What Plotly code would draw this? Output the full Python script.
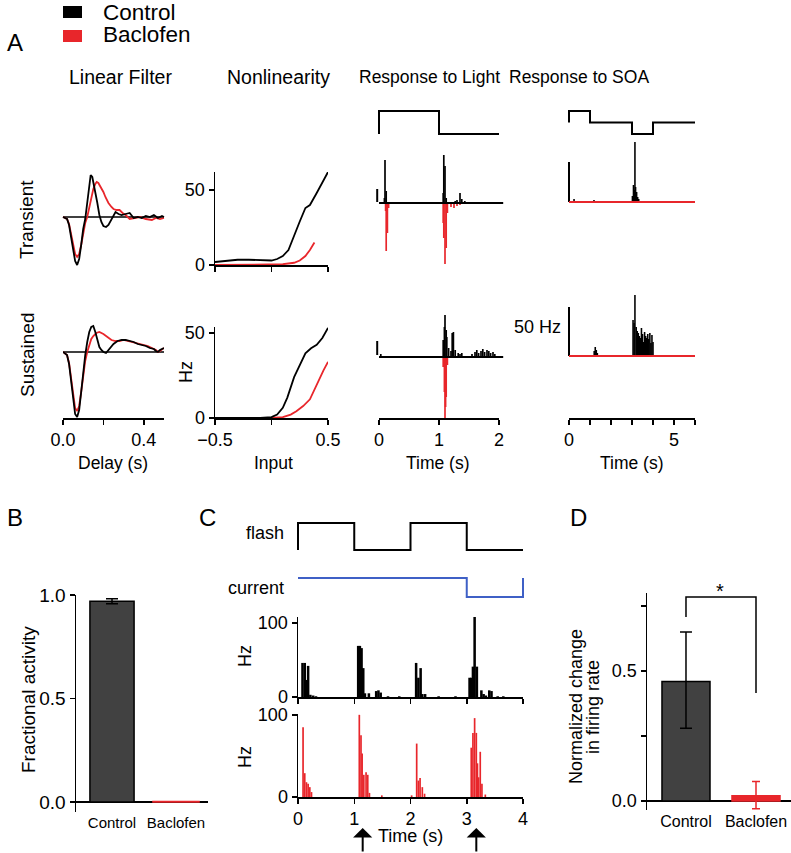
import plotly.graph_objects as go

W, H = 791, 853
FONT = "Liberation Sans, Arial, Helvetica, sans-serif"
BLACK = "#000000"
RED = "#e8262b"
BLUE = "#3f60c6"
GRAY = "#414141"

# ======================= DATA =======================
# --- A: linear filters (arbitrary units) ---
lf_tr_ctrl_delay = [0, 0.02, 0.03, 0.04, 0.05, 0.06, 0.07, 0.08, 0.09, 0.10, 0.11, 0.12, 0.13, 0.137, 0.145,
                    0.16, 0.17, 0.18, 0.19, 0.20, 0.213, 0.225, 0.24, 0.25, 0.26, 0.275, 0.29, 0.31, 0.33,
                    0.35, 0.37, 0.39, 0.41, 0.43, 0.45, 0.47, 0.49, 0.50]
lf_tr_ctrl = [0, -2, -8, -20, -34, -44, -48, -42, -28, -12, -2, 14, 34, 42, 40,
              26, 14, 2, -5, -9, -10, -8, -3, 1, 5, 3, 2, 3, 4,
              -1, 0, -1, 1, 0, 2, -1, 1, 0]
lf_tr_bac_delay = [0, 0.02, 0.03, 0.04, 0.05, 0.06, 0.07, 0.08, 0.09, 0.10, 0.11, 0.12, 0.13, 0.14, 0.15,
                   0.16, 0.167, 0.175, 0.19, 0.20, 0.21, 0.225, 0.24, 0.25, 0.265, 0.28, 0.295, 0.31, 0.33,
                   0.35, 0.38, 0.41, 0.44, 0.46, 0.48, 0.50]
lf_tr_bac = [0, -2, -7, -17, -29, -37, -40, -37, -28, -17, -6, 0, 10, 20, 28,
             33, 35, 34, 29, 25, 20, 14, 10, 8, 7, 7, 4, 2, -2,
             -1, 0, -2, -3, -1, -2, -1]
lf_su_ctrl_delay = [0, 0.02, 0.03, 0.04, 0.05, 0.06, 0.07, 0.08, 0.09, 0.10, 0.11, 0.12, 0.13, 0.14, 0.15,
                    0.16, 0.17, 0.18, 0.19, 0.20, 0.213, 0.23, 0.25, 0.27, 0.29, 0.31, 0.33, 0.35, 0.37,
                    0.39, 0.41, 0.43, 0.45, 0.46, 0.47, 0.48, 0.50]
lf_su_ctrl = [0, -3, -12, -30, -50, -62, -65, -58, -40, -20, -3, 10, 20, 25, 26,
              20, 12, 5, 2, 0, -1, 3, 8, 11, 12, 12, 11, 10, 8,
              7, 6, 4, 3, 1, 0, 2, 4]
lf_su_bac_delay = [0, 0.02, 0.03, 0.04, 0.05, 0.06, 0.07, 0.08, 0.09, 0.10, 0.11, 0.12, 0.13, 0.14, 0.15,
                   0.165, 0.18, 0.20, 0.22, 0.24, 0.26, 0.28, 0.30, 0.32, 0.34, 0.36, 0.38, 0.40, 0.42,
                   0.44, 0.46, 0.47, 0.48, 0.50]
lf_su_bac = [0, -3, -11, -27, -45, -56, -59, -54, -40, -24, -9, 0, 8, 13, 16,
             19, 20, 18, 15, 12, 11, 11, 12, 11, 10, 9, 8, 7, 6,
             4, 2, 0, 1, 4]

# --- A: nonlinearities (input vs Hz) ---
nl_tr_ctrl_in = [-0.5, -0.4, -0.3, -0.2, -0.1, 0.0, 0.05, 0.1, 0.15, 0.2, 0.25, 0.3, 0.34, 0.4, 0.45, 0.5]
nl_tr_ctrl = [2, 3, 3.5, 3.5, 3.5, 3, 4, 6, 10, 20, 29, 38, 40, 48, 55, 62]
nl_tr_bac_in = [-0.5, -0.3, 0.0, 0.1, 0.2, 0.25, 0.3, 0.34, 0.38]
nl_tr_bac = [0, 0, 0, 0.5, 1.5, 3, 6, 10, 15]
nl_su_ctrl_in = [-0.5, -0.1, 0.0, 0.05, 0.1, 0.14, 0.2, 0.26, 0.3, 0.35, 0.4, 0.45, 0.5]
nl_su_ctrl = [0, 0, 0.5, 2, 6, 12, 24, 33, 38, 41, 43, 47, 53]
nl_su_bac_in = [-0.5, 0.0, 0.1, 0.17, 0.22, 0.28, 0.34, 0.38, 0.42, 0.46, 0.5]
nl_su_bac = [0, 0, 0.5, 2, 4, 7, 11, 17, 23, 28, 33]

# --- A: response to light (Hz) ---
light_stim_t = [0, 0, 1, 2]
light_stim_level = [0, 1, 0, 0]
light_base_t = [0, 2.07]
light_tr_ctrl_t = [0.09, 0.10, 0.12, 1.07, 1.08, 1.10, 1.12, 1.27, 1.30, 1.35, 1.38, 1.43]
light_tr_ctrl = [5, 43, 12, 10, 48, 37, 5, 2, 3, 10, 4, 2]
light_tr_bac_t = [0.11, 0.12, 0.14, 0.16, 1.07, 1.08, 1.10, 1.12, 1.14, 1.20, 1.25, 1.30, 1.35]
light_tr_bac = [8, 48, 30, 5, 20, 35, 61, 45, 10, 4, 5, 3, 2]
light_tr_pre = [1, 14]
light_su_ctrl_t = [0.03, 1.07, 1.09, 1.10, 1.12, 1.13, 1.16, 1.20, 1.22, 1.24, 1.27, 1.32, 1.35, 1.38,
                   1.55, 1.60, 1.63, 1.66, 1.70, 1.73, 1.76, 1.80, 1.83, 1.86, 1.90, 1.93]
light_su_ctrl = [3, 17, 30, 42, 27, 20, 9, 6, 24, 25, 7, 4, 3, 4,
                 3, 5, 7, 4, 6, 8, 5, 7, 6, 4, 5, 3]
light_su_bac_t = [1.07, 1.09, 1.10, 1.11, 1.12, 1.14]
light_su_bac = [10, 35, 61, 50, 40, 8]
light_su_pre = [2, 16]
light_ticks = [0, 1, 2]

# --- A: response to SOA (Hz) ---
soa_stim_t = [0, 0, 1, 3, 4, 6]
soa_stim_level = [0.5, 1, 0.5, 0, 0.5, 0.5]
soa_tr_ctrl_t = [0.24, 1.19, 3.02, 3.07, 3.12, 3.14, 3.17, 3.22, 3.27, 3.32]
soa_tr_ctrl = [3, 2, 6, 17, 12, 60, 15, 10, 5, 3]
soa_su_ctrl_t = [1.20, 1.25, 1.30, 1.35, 3.05, 3.10, 3.14, 3.20, 3.25, 3.30, 3.35, 3.40, 3.45, 3.50,
                 3.55, 3.60, 3.65, 3.70, 3.75, 3.80, 3.85, 3.90, 3.95, 4.00]
soa_su_ctrl = [5, 9, 6, 3, 36, 33, 61, 29, 25, 23, 20, 18, 28, 22,
               14, 24, 20, 18, 22, 17, 23, 13, 21, 14]
soa_bac_t = [0, 6]
soa_bac = [0, 0]
soa_tr_scale = [0, 40]
soa_su_scale = [0, 49]
soa_ticks = [0, 1, 2, 3, 4, 5, 6]

# --- B: fractional activity ---
b_groups = ["Control", "Baclofen"]
b_values = [0.97, 0.003]
b_err = [0.012, 0.0]

# --- C: flash / current / PSTHs ---
flash_t = [0, 0, 1, 2, 3, 4]
flash_level = [0, 1, 0, 1, 0, 0]
current_t = [0, 3, 4, 4]
current_level = [1, 0, 0, 1]
c_ctrl_t = [0.08, 0.12, 0.15, 0.18, 0.22, 0.27, 0.32, 1.07, 1.10, 1.13, 1.16, 1.19, 1.26,
            1.39, 1.43, 1.47, 1.60, 1.80, 2.10, 2.14, 2.18, 2.21, 2.26, 2.50, 2.80,
            3.05, 3.08, 3.11, 3.14, 3.18, 3.26, 3.30, 3.34, 3.40, 3.44, 3.55, 3.65]
c_ctrl = [46, 46, 23, 42, 3, 2, 1, 69, 69, 66, 39, 5, 5,
          8, 9, 6, 1, 1, 46, 26, 39, 4, 4, 1, 1,
          26, 26, 41, 109, 41, 9, 4, 2, 9, 8, 1, 1]
c_bac_t = [0.09, 0.12, 0.15, 0.18, 0.21, 0.24, 1.09, 1.12, 1.14, 1.17, 1.21, 1.24, 1.27,
           1.49, 2.02, 2.11, 2.14, 2.17, 2.21, 2.25, 3.08, 3.11, 3.14, 3.17, 3.19, 3.21, 3.24, 3.27, 3.33]
c_bac = [85, 29, 18, 16, 12, 6, 100, 75, 53, 27, 30, 27, 5,
         2, 2, 65, 20, 23, 12, 4, 60, 78, 96, 78, 41, 24, 55, 16, 3]
c_ticks = [0, 1, 2, 3, 4]
c_arrow_t = [1.15, 3.17]

# --- D: normalized change in firing rate ---
d_groups = ["Control", "Baclofen"]
d_values = [0.46, 0.02]
d_err_plus = [0.19, 0.055]
d_err_minus = [0.18, 0.05]
d_sig_y = [0.708, 0.785, 0.785, 0.415]

# ======================= LAYOUT HELPERS =======================
layout = dict(template="none", width=W, height=H, margin=dict(l=0, r=0, t=0, b=0, pad=0),
              autosize=False,
              paper_bgcolor="white", plot_bgcolor="rgba(0,0,0,0)",
              showlegend=False, barmode="overlay", hovermode=False,
              font=dict(family=FONT, color="black", size=18))
traces, annotations, shapes = [], [], []
n_axes = [0]


def axstyle(size=18):
    return dict(visible=True, showline=True, linecolor="black", linewidth=1.5,
                ticks="outside", ticklen=5, tickwidth=1.5, tickcolor="black",
                tickfont=dict(family=FONT, size=size, color="black"))


def add_axes(xpx, ypx, xr, yr, xvis=None, yvis=None):
    n_axes[0] += 1
    k = n_axes[0]
    s = "" if k == 1 else str(k)
    xa = dict(domain=[xpx[0] / W, xpx[1] / W], range=list(xr), anchor="y" + s,
              visible=False, fixedrange=True, showgrid=False, zeroline=False, automargin=False)
    ya = dict(domain=[1 - ypx[1] / H, 1 - ypx[0] / H], range=list(yr), anchor="x" + s,
              visible=False, fixedrange=True, showgrid=False, zeroline=False, automargin=False)
    if xvis is not None:
        xa.update(axstyle(xvis.pop("size", 18)))
        xa.update(xvis)
    if yvis is not None:
        ya.update(axstyle(yvis.pop("size", 18)))
        ya.update(yvis)
    layout["xaxis" + s] = xa
    layout["yaxis" + s] = ya
    return "x" + s, "y" + s


def line(ax, x, y, color=BLACK, width=1.8, shape="linear"):
    traces.append(go.Scatter(x=x, y=y, mode="lines", xaxis=ax[0], yaxis=ax[1],
                             line=dict(color=color, width=width, shape=shape),
                             hoverinfo="skip"))


def bars(ax, x, y, color, width):
    traces.append(go.Bar(x=x, y=y, width=width, xaxis=ax[0], yaxis=ax[1],
                         marker=dict(color=color, line=dict(width=0)), hoverinfo="skip"))


def dummy(ax):
    traces.append(go.Scatter(x=[0], y=[0], mode="markers", marker=dict(opacity=0),
                             xaxis=ax[0], yaxis=ax[1], hoverinfo="skip"))


def txt(x, y, text, size=18, angle=0, xanchor="center"):
    annotations.append(dict(x=x / W, y=1 - y / H, xref="paper", yref="paper", text=text,
                            showarrow=False, textangle=angle, xanchor=xanchor, yanchor="middle",
                            font=dict(family=FONT, size=size, color="black")))


# ======================= PANEL A =======================
# legend
shapes.append(dict(type="rect", xref="paper", yref="paper", x0=63 / W, x1=82 / W,
                   y0=1 - 18 / H, y1=1 - 6 / H, fillcolor=BLACK, line=dict(width=0)))
shapes.append(dict(type="rect", xref="paper", yref="paper", x0=63 / W, x1=82 / W,
                   y0=1 - 42 / H, y1=1 - 30 / H, fillcolor=RED, line=dict(width=0)))
txt(101, 12, "Control", 22.5, xanchor="left")
txt(101, 35, "Baclofen", 22.5, xanchor="left")
txt(15, 43, "A", 24)
txt(120, 77, "Linear Filter", 19.5)
txt(278, 77, "Nonlinearity", 19.5)
txt(357, 77, "Response to Light", 17.5, xanchor="left")
txt(507, 77, "Response to SOA", 17.5, xanchor="left")
txt(27, 220, "Transient", 19, angle=-90)
txt(27, 355, "Sustained", 19, angle=-90)

# linear filter transient
ax = add_axes((58, 169), (165, 275), ((58 - 63) / 202, (169 - 63) / 202), (-58, 52))
line(ax, [0, 0.5], [0, 0], BLACK, 1.6)
line(ax, lf_tr_bac_delay, lf_tr_bac, RED)
line(ax, lf_tr_ctrl_delay, lf_tr_ctrl, BLACK)

# linear filter sustained
ax = add_axes((63, 164), (318, 418), (0, 0.5), (-66, 34),
              xvis=dict(tickvals=[0, 0.2, 0.4], ticktext=["0.0", "", "0.4"]))
line(ax, [0, 0.5], [0, 0], BLACK, 1.6)
line(ax, lf_su_bac_delay, lf_su_bac, RED)
line(ax, lf_su_ctrl_delay, lf_su_ctrl, BLACK)
txt(113, 463, "Delay (s)", 17.5)

# nonlinearity transient
ax = add_axes((215, 328), (172, 265), (-0.5, 0.5), (0, 62),
              xvis=dict(tickvals=[-0.5, 0, 0.5], showticklabels=False, layer="below traces"),
              yvis=dict(tickvals=[0, 50], ticktext=["0", "50"], layer="below traces"))
line(ax, nl_tr_bac_in, nl_tr_bac, RED)
line(ax, nl_tr_ctrl_in, nl_tr_ctrl, BLACK)

# nonlinearity sustained
ax = add_axes((215, 328), (327, 418), (-0.5, 0.5), (0, 53.5),
              xvis=dict(tickvals=[-0.5, 0, 0.5], ticktext=["\u22120.5", "", "0.5"], layer="below traces"),
              yvis=dict(tickvals=[0, 50], ticktext=["0", "50"], layer="below traces"))
line(ax, nl_su_bac_in, nl_su_bac, RED)
line(ax, nl_su_ctrl_in, nl_su_ctrl, BLACK)
txt(186, 372, "Hz", 18, angle=-90)
txt(273, 463, "Input", 17.5)

# response to light
lx = ((365 - 379) / 60, (510 - 379) / 60)
ax = add_axes((365, 510), (100, 145), lx, ((134 - 145) / 23, (134 - 100) / 23))
line(ax, light_stim_t, light_stim_level, BLACK, 2, shape="hv")

ax = add_axes((365, 510), (140, 275), lx, (-72, 63))
bars(ax, light_tr_bac_t, [-v for v in light_tr_bac], RED, 0.028)
bars(ax, light_tr_ctrl_t, light_tr_ctrl, BLACK, 0.028)
line(ax, light_base_t, [0, 0], BLACK, 2)
line(ax, [-0.03, -0.03], light_tr_pre, BLACK, 2)

ax = add_axes((365, 510), (290, 425), lx, (-68, 67))
bars(ax, light_su_bac_t, [-v for v in light_su_bac], RED, 0.028)
bars(ax, light_su_ctrl_t, light_su_ctrl, BLACK, 0.028)
line(ax, light_base_t, [0, 0], BLACK, 2)
line(ax, [-0.03, -0.03], light_su_pre, BLACK, 2)

ax = add_axes((379, 499), (410, 418), (0, 2), (0, 1),
              xvis=dict(tickvals=light_ticks, ticktext=[str(t) for t in light_ticks]))
dummy(ax)
txt(438, 463, "Time (s)", 17.5)

# response to SOA
sx = ((560 - 569) / 21, (705 - 569) / 21)
ax = add_axes((560, 705), (100, 145), sx, ((134 - 145) / 23, (134 - 100) / 23))
line(ax, soa_stim_t, soa_stim_level, BLACK, 2, shape="hv")

ax = add_axes((560, 705), (135, 215), sx, (-13, 67))
bars(ax, soa_tr_ctrl_t, soa_tr_ctrl, BLACK, 0.075)
line(ax, [0, 0], soa_tr_scale, BLACK, 2)
line(ax, soa_bac_t, soa_bac, RED, 2.2)

ax = add_axes((560, 705), (285, 365), sx, (-9, 71))
bars(ax, soa_su_ctrl_t, soa_su_ctrl, BLACK, 0.075)
line(ax, [0, 0], soa_su_scale, BLACK, 2)
line(ax, soa_bac_t, soa_bac, RED, 2.2)
txt(537, 327, "50 Hz", 18)

ax = add_axes((569, 695), (410, 418), (0, 6), (0, 1),
              xvis=dict(tickvals=soa_ticks, ticktext=["0", "", "", "", "", "5", ""]))
dummy(ax)
txt(632, 463, "Time (s)", 17.5)

# ======================= PANEL B =======================
txt(15, 517, "B", 24)
ax = add_axes((76, 208), (595, 812), (-0.5625, 1.5), (-0.048, 1.0),
              xvis=dict(showline=False, ticks="", size=15, type="category",
                        categoryorder="array", categoryarray=b_groups),
              yvis=dict(tickvals=[0, 0.5, 1.0], ticktext=["0.0", "0.5", "1.0"], size=19,
                        zeroline=True, zerolinecolor="black", zerolinewidth=1.5))
traces.append(go.Bar(x=[b_groups[0]], y=[b_values[0]], width=0.69, xaxis=ax[0], yaxis=ax[1],
                     marker=dict(color=GRAY, line=dict(color=BLACK, width=1.5)),
                     error_y=dict(type="data", array=[b_err[0]], color=BLACK, thickness=1.5, width=6),
                     hoverinfo="skip"))
traces.append(go.Bar(x=[b_groups[1]], y=[b_values[1]], width=0.72, xaxis=ax[0], yaxis=ax[1],
                     marker=dict(color=RED, line=dict(color=RED, width=1.5)), hoverinfo="skip"))
txt(28, 700, "Fractional activity", 19, angle=-90)

# ======================= PANEL C =======================
txt(207, 517, "C", 24)
cx = ((290 - 298) / 56.25, (530 - 298) / 56.25)
ax = add_axes((290, 530), (515, 558), cx, ((550 - 558) / 27, (550 - 515) / 27))
line(ax, flash_t, flash_level, BLACK, 2, shape="hv")
ax = add_axes((290, 530), (570, 605), cx, ((597 - 605) / 19, (597 - 570) / 19))
line(ax, current_t, current_level, BLUE, 2, shape="hv")
txt(286, 533, "flash", 18, xanchor="right")
txt(286, 588, "current", 18, xanchor="right")

ax = add_axes((298, 523), (617, 697), (0, 4), (0, 108),
              xvis=dict(tickvals=c_ticks, showticklabels=False),
              yvis=dict(tickvals=[0, 100], ticktext=["0", "100"]))
bars(ax, c_ctrl_t, c_ctrl, BLACK, 0.045)
txt(245, 656, "Hz", 18, angle=-90)

ax = add_axes((298, 523), (714, 797), (0, 4), (0, 101),
              xvis=dict(tickvals=c_ticks, ticktext=[str(t) for t in c_ticks]),
              yvis=dict(tickvals=[0, 100], ticktext=["0", "100"]))
bars(ax, c_bac_t, c_bac, RED, 0.03)
txt(245, 757, "Hz", 18, angle=-90)
txt(410, 836, "Time (s)", 18)
for t in c_arrow_t:
    annotations.append(dict(x=t, y=1 - 828 / H, xref=ax[0], yref="paper", text="",
                            showarrow=True, arrowhead=1, arrowsize=1.6, arrowwidth=2,
                            arrowcolor=BLACK, ax=0, ay=32, axref="pixel", ayref="pixel"))

# ======================= PANEL D =======================
txt(578, 517, "D", 24)
ax = add_axes((647, 791), (593, 810), (-0.557, 1.5), (-0.0346, 0.8),
              xvis=dict(showline=False, ticks="", size=16, type="category",
                        categoryorder="array", categoryarray=d_groups),
              yvis=dict(tickvals=[0, 0.25, 0.5, 0.75], ticktext=["0.0", "", "0.5", ""], size=18,
                        zeroline=True, zerolinecolor="black", zerolinewidth=1.5))
traces.append(go.Bar(x=[d_groups[0]], y=[d_values[0]], width=0.686, xaxis=ax[0], yaxis=ax[1],
                     marker=dict(color=GRAY, line=dict(color=BLACK, width=1.5)),
                     error_y=dict(type="data", array=[d_err_plus[0]], arrayminus=[d_err_minus[0]],
                                  color=BLACK, thickness=1.5, width=6),
                     hoverinfo="skip"))
traces.append(go.Bar(x=[d_groups[1]], y=[d_values[1]], width=0.686, xaxis=ax[0], yaxis=ax[1],
                     marker=dict(color=RED, line=dict(color=RED, width=1.5)),
                     error_y=dict(type="data", array=[d_err_plus[1]], arrayminus=[d_err_minus[1]],
                                  color=RED, thickness=1.5, width=4),
                     hoverinfo="skip"))
traces.append(go.Scatter(x=[d_groups[0], d_groups[0], d_groups[1], d_groups[1]], y=d_sig_y,
                         mode="lines", line=dict(color=BLACK, width=1.5),
                         xaxis=ax[0], yaxis=ax[1], hoverinfo="skip"))
txt(720, 591, "*", 20)
txt(576, 707, "Normalized change", 18, angle=-90)
txt(593, 707, "in firing rate", 18, angle=-90)

layout["annotations"] = annotations
layout["shapes"] = shapes
fig = go.Figure(data=traces, layout=layout)
fig.write_html("out.html", config={"displayModeBar": False, "staticPlot": True},
               post_script="document.body.style.margin='0px';document.body.style.padding='0px';")
